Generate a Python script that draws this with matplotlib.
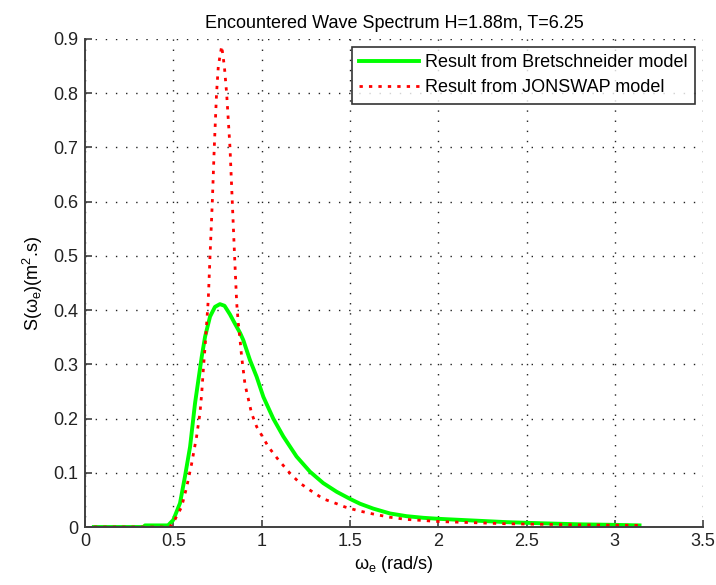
import matplotlib
matplotlib.use('Agg')
import matplotlib.pyplot as plt

plt.rcParams['font.family'] = ['Liberation Sans', 'DejaVu Sans']
plt.rcParams['mathtext.fontset'] = 'custom'
plt.rcParams['mathtext.rm'] = 'Liberation Sans'
plt.rcParams['mathtext.it'] = 'Liberation Sans'

# values
w_bret = [0.05, 0.33, 0.34, 0.47, 0.50, 0.538, 0.566, 0.595, 0.623, 0.642, 0.661,
          0.680, 0.708, 0.736, 0.764, 0.790, 0.821, 0.849, 0.878, 0.896, 0.934,
          0.972, 1.01, 1.066, 1.123, 1.198, 1.274, 1.349, 1.425, 1.50, 1.557,
          1.632, 1.727, 1.821, 1.916, 2.01, 2.199, 2.388, 2.577, 2.8, 3.0, 3.14]
s_bret = [0.0, 0.0, 0.003, 0.003, 0.013, 0.044, 0.093, 0.148, 0.228, 0.271, 0.314,
          0.351, 0.388, 0.406, 0.411, 0.408, 0.392, 0.375, 0.358, 0.345, 0.308,
          0.277, 0.240, 0.200, 0.167, 0.130, 0.102, 0.081, 0.065, 0.052, 0.043,
          0.034, 0.025, 0.020, 0.017, 0.015, 0.012, 0.009, 0.007, 0.005, 0.004, 0.003]

w_jon = [0.05, 0.48, 0.50, 0.547, 0.576, 0.604, 0.632, 0.651, 0.661, 0.670, 0.680,
         0.689, 0.698, 0.708, 0.721, 0.732, 0.745, 0.755, 0.774, 0.789, 0.802,
         0.821, 0.834, 0.847, 0.859, 0.868, 0.878, 0.887, 0.896, 0.906, 0.925,
         0.943, 0.972, 1.01, 1.038, 1.095, 1.161, 1.217, 1.274, 1.349, 1.425,
         1.472, 1.548, 1.632, 1.727, 1.821, 1.916, 2.01, 2.199, 2.388, 2.6, 2.8, 3.14]
s_jon = [0.0, 0.0, 0.008, 0.037, 0.074, 0.117, 0.167, 0.210, 0.247, 0.290, 0.333,
         0.376, 0.419, 0.50, 0.60, 0.70, 0.80, 0.85, 0.887, 0.85, 0.80,
         0.70, 0.60, 0.50, 0.413, 0.376, 0.345, 0.314, 0.290, 0.263, 0.236,
         0.210, 0.185, 0.164, 0.148, 0.124, 0.099, 0.081, 0.068, 0.052, 0.043,
         0.037, 0.030, 0.024, 0.018, 0.014, 0.012, 0.010, 0.008, 0.006, 0.005, 0.004, 0.003]

fs = 13

fig = plt.figure(figsize=(7.16, 5.85), dpi=100)
ax = fig.add_axes([0.1187, 0.0991, 0.8633, 0.8343])

ax.plot(w_bret, s_bret, color='#00ff00', lw=2.8, label='Result from Bretschneider model')
ax.plot(w_jon, s_jon, color='red', lw=2.0, linestyle=(0, (1.2, 2.2)),
        label='Result from JONSWAP model')

ax.set_xlim(0, 3.5)
ax.set_ylim(0, 0.9)
ax.set_xticks([0, 0.5, 1, 1.5, 2, 2.5, 3, 3.5])
ax.set_xticklabels(['0', '0.5', '1', '1.5', '2', '2.5', '3', '3.5'])
ax.set_yticks([0, 0.1, 0.2, 0.3, 0.4, 0.5, 0.6, 0.7, 0.8, 0.9])
ax.set_yticklabels(['0', '0.1', '0.2', '0.3', '0.4', '0.5', '0.6', '0.7', '0.8', '0.9'])

ax.grid(True, color='#222222', linestyle=(0, (1, 6.3)), linewidth=1.0)
ax.spines['top'].set_visible(False)
ax.spines['right'].set_visible(False)
for s in ['left', 'bottom']:
    ax.spines[s].set_color('#404040')
    ax.spines[s].set_linewidth(1.4)
ax.tick_params(direction='in', length=5, width=1.2, labelsize=fs, colors='#404040',
               labelcolor='#222222')
ax.tick_params(axis='x', pad=4)
ax.tick_params(axis='y', pad=5)

ax.set_title('Encountered Wave Spectrum H=1.88m, T=6.25', fontsize=fs, pad=8)
ax.set_xlabel(r'$\omega_e$ (rad/s)', fontsize=fs, labelpad=3)
ax.set_ylabel(r'S($\omega_e$)(m$^2$.s)', fontsize=fs, labelpad=6)

leg = ax.legend(loc='upper right', fontsize=fs, frameon=True, fancybox=False,
                borderaxespad=0.45, handlelength=3.3, handletextpad=0.35,
                borderpad=0.4, labelspacing=0.45)
leg.get_frame().set_edgecolor('black')
leg.get_frame().set_linewidth(1.2)

fig.savefig('out.png', dpi=100)
